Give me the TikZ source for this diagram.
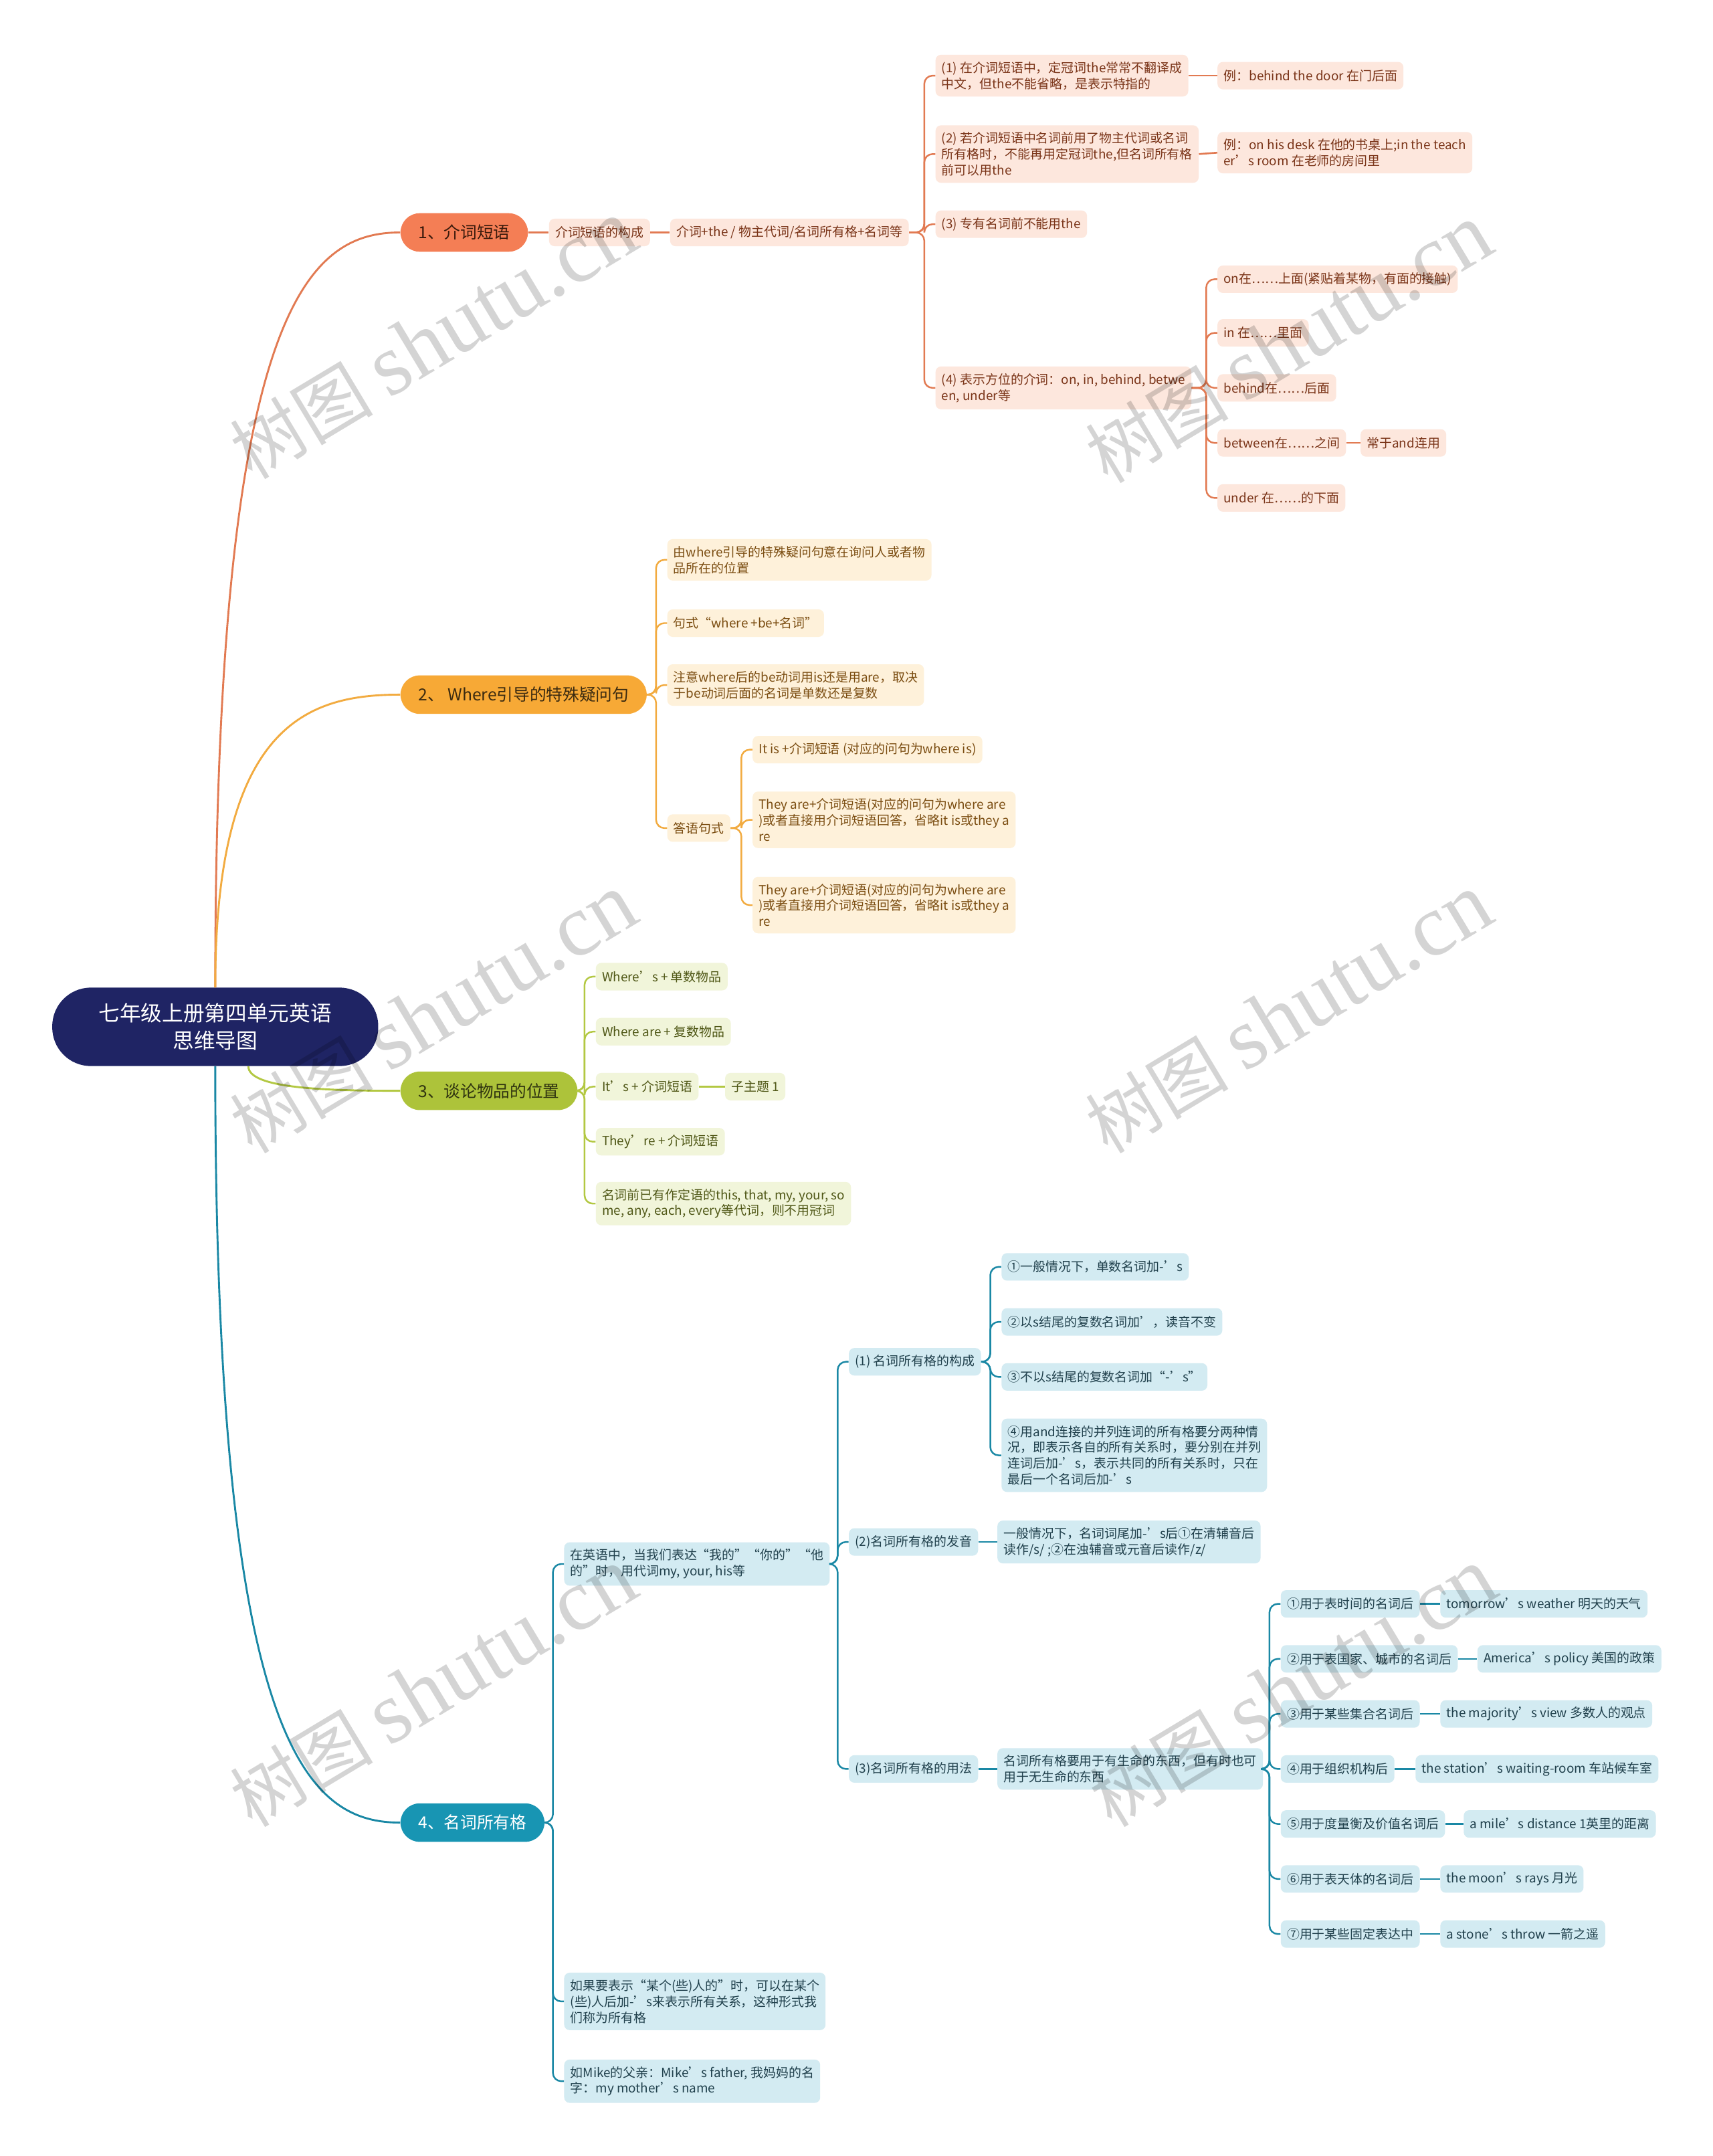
\documentclass[tikz,border=0pt]{standalone}
\usepackage{fontspec}
\setmainfont{Noto Sans CJK SC}
\newfontfamily\markfont{Liberation Serif}
\usetikzlibrary{calc}
\definecolor{RootNavy}{HTML}{1F2464}
\definecolor{PrepMain}{HTML}{F47E55}
\definecolor{PrepLine}{HTML}{E27A52}
\definecolor{PrepSoft}{HTML}{FDE7DD}
\definecolor{PrepText}{HTML}{7A3418}
\definecolor{PrepDark}{HTML}{3A1A0C}
\definecolor{WhereMain}{HTML}{F7A936}
\definecolor{WhereLine}{HTML}{F2AB40}
\definecolor{WhereSoft}{HTML}{FEF1DA}
\definecolor{WhereText}{HTML}{7A4C10}
\definecolor{WhereDark}{HTML}{3A2A10}
\definecolor{PlaceMain}{HTML}{ADC33A}
\definecolor{PlaceLine}{HTML}{B3C842}
\definecolor{PlaceSoft}{HTML}{F1F5DA}
\definecolor{PlaceText}{HTML}{4F5716}
\definecolor{PlaceDark}{HTML}{2F3310}
\definecolor{PossMain}{HTML}{1895B3}
\definecolor{PossLine}{HTML}{1A88A5}
\definecolor{PossSoft}{HTML}{D3EBF2}
\definecolor{PossText}{HTML}{20404C}

\begin{document}
\begin{tikzpicture}[
	x=1pt, y=-1pt, % one unit per pixel of the layout, y going down
	% Style for the central topic
	root node/.style={
		rectangle,
		rounded corners=28pt,
		fill=RootNavy,
		text=white,
		minimum width=237pt,
		minimum height=57pt,
		align=center,
		font=\fontsize{15.4}{20}\selectfont
	},
	% Style for the four main branches
	topic node/.style={
		rectangle,
		rounded corners=14pt,
		minimum height=28pt,
		inner xsep=13pt,
		anchor=west,
		font=\fontsize{12}{14}\selectfont
	},
	% Style for the small boxes
	leaf node/.style={
		rectangle,
		rounded corners=4pt,
		minimum height=20pt,
		inner xsep=4.5pt,
		inner ysep=5pt,
		align=left,
		anchor=west,
		font=\fontsize{9.2}{11.6}\selectfont
	},
	prep leaf/.style={leaf node, fill=PrepSoft, text=PrepText},
	where leaf/.style={leaf node, fill=WhereSoft, text=WhereText},
	place leaf/.style={leaf node, fill=PlaceSoft, text=PlaceText},
	poss leaf/.style={leaf node, fill=PossSoft, text=PossText},
	% Style for the curves leaving the root
	trunk/.style={
		line width=1.4pt,
		to path={(\tikztostart) .. controls ($(\tikztostart)!0.9!(\tikztostart|-\tikztotarget)$) and ($(\tikztotarget)!0.5!(\tikztostart|-\tikztotarget)$) .. (\tikztotarget)}
	},
	% Style for the branch lines (stub, spine and bend)
	twig/.style={
		line width=1.2pt,
		rounded corners=6pt,
		to path={(\tikztostart) -- ($(\tikztostart-|\tikztotarget)+(-8,0)$) |- (\tikztotarget)}
	},
	% Style for straight joins
	stub/.style={line width=1.3pt},
	% Style for the grey site mark
	watermark/.style={
		rotate=31,
		text=black,
		text opacity=0.17,
		font=\fontsize{52}{52}\selectfont
	}
	]
	
	\fill[white] (0,0) rectangle (1245,1567.4);
	\useasboundingbox (0,0) rectangle (1245,1567.4);
	
	% 1. Root
	\node[root node] (root) at (156.5,746.5) {七年级上册第四单元英语\\思维导图};
	
	% 2. Main branches
	\node[topic node, fill=PrepMain, text=PrepDark] (prep) at (291,169) {1、介词短语};
	\node[topic node, fill=WhereMain, text=WhereDark] (where) at (291,505) {2、 Where引导的特殊疑问句};
	\node[topic node, fill=PlaceMain, text=PlaceDark] (talk) at (291,793) {3、谈论物品的位置};
	\node[topic node, fill=PossMain, text=white] (poss) at (291,1325) {4、名词所有格};
	
	% 3. Branch 1
	\node[prep leaf] (prepform) at (399,169) {介词短语的构成};
	\node[prep leaf] (prepformula) at (487,169) {介词+the / 物主代词/名词所有格+名词等};
	\node[prep leaf] (rule1) at (680,55) {(1) 在介词短语中，定冠词the常常不翻译成\\中文，但the不能省略，是表示特指的};
	\node[prep leaf] (eg1) at (885,55) {例：behind the door 在门后面};
	\node[prep leaf] (rule2) at (680,112) {(2) 若介词短语中名词前用了物主代词或名词\\所有格时，不能再用定冠词the,但名词所有格\\前可以用the};
	\node[prep leaf] (eg2) at (885,111) {例：on his desk 在他的书桌上;in the teach\\er’s room 在老师的房间里};
	\node[prep leaf] (rule3) at (680,163) {(3) 专有名词前不能用the};
	\node[prep leaf] (rule4) at (680,282) {(4) 表示方位的介词：on, in, behind, betwe\\en, under等};
	\node[prep leaf] (pos1) at (885,203) {on在……上面(紧贴着某物，有面的接触)};
	\node[prep leaf] (pos2) at (885,242) {in 在……里面};
	\node[prep leaf] (pos3) at (885,282) {behind在……后面};
	\node[prep leaf] (pos4) at (885,322) {between在……之间};
	\node[prep leaf] (posnote) at (989,322) {常于and连用};
	\node[prep leaf] (pos5) at (885,362) {under 在……的下面};
	
	% 4. Branch 2
	\node[where leaf] (wq1) at (485,407) {由where引导的特殊疑问句意在询问人或者物\\品所在的位置};
	\node[where leaf] (wq2) at (485,453) {句式“where +be+名词”};
	\node[where leaf] (wq3) at (485,498) {注意where后的be动词用is还是用are，取决\\于be动词后面的名词是单数还是复数};
	\node[where leaf] (wans) at (485,602) {答语句式};
	\node[where leaf] (ans1) at (547,545) {It is +介词短语 (对应的问句为where is)};
	\node[where leaf] (ans2) at (547,596) {They are+介词短语(对应的问句为where are\\)或者直接用介词短语回答，省略it is或they a\\re};
	\node[where leaf] (ans3) at (547,658) {They are+介词短语(对应的问句为where are\\)或者直接用介词短语回答，省略it is或they a\\re};
	
	% 5. Branch 3
	\node[place leaf] (tk1) at (433,710) {Where’s + 单数物品};
	\node[place leaf] (tk2) at (433,750) {Where are + 复数物品};
	\node[place leaf] (tk3) at (433,790) {It’s + 介词短语};
	\node[place leaf] (tksub) at (527,790) {子主题 1};
	\node[place leaf] (tk4) at (433,830) {They’re + 介词短语};
	\node[place leaf] (tk5) at (433,875) {名词前已有作定语的this, that, my, your, so\\me, any, each, every等代词，则不用冠词};
	
	% 6. Branch 4
	\node[poss leaf] (ps1) at (410,1137) {在英语中，当我们表达“我的”“你的”“他\\的”时，用代词my, your, his等};
	\node[poss leaf] (ps2) at (410,1455) {如果要表示“某个(些)人的”时，可以在某个\\(些)人后加-’s来表示所有关系，这种形式我\\们称为所有格};
	\node[poss leaf] (ps3) at (410,1513) {如Mike的父亲：Mike’s father, 我妈妈的名\\字：my mother’s name};
	\node[poss leaf] (form) at (617,990) {(1) 名词所有格的构成};
	\node[poss leaf] (sound) at (617,1121) {(2)名词所有格的发音};
	\node[poss leaf] (use) at (617,1286) {(3)名词所有格的用法};
	\node[poss leaf] (f1) at (728,921) {①一般情况下，单数名词加-’s};
	\node[poss leaf] (f2) at (728,961) {②以s结尾的复数名词加’，读音不变};
	\node[poss leaf] (f3) at (728,1001) {③不以s结尾的复数名词加“-’s”};
	\node[poss leaf] (f4) at (728,1058) {④用and连接的并列连词的所有格要分两种情\\况，即表示各自的所有关系时，要分别在并列\\连词后加-’s，表示共同的所有关系时，只在\\最后一个名词后加-’s};
	\node[poss leaf] (sdn) at (725,1121) {一般情况下，名词词尾加-’s后①在清辅音后\\读作/s/ ;②在浊辅音或元音后读作/z/};
	\node[poss leaf] (usen) at (725,1286) {名词所有格要用于有生命的东西，但有时也可\\用于无生命的东西};
	\node[poss leaf] (u1) at (931,1166) {①用于表时间的名词后};
	\node[poss leaf] (ex1) at (1047,1166) {tomorrow’s weather 明天的天气};
	\node[poss leaf] (u2) at (931,1206) {②用于表国家、城市的名词后};
	\node[poss leaf] (ex2) at (1074,1206) {America’s policy 美国的政策};
	\node[poss leaf] (u3) at (931,1246) {③用于某些集合名词后};
	\node[poss leaf] (ex3) at (1047,1246) {the majority’s view 多数人的观点};
	\node[poss leaf] (u4) at (931,1286) {④用于组织机构后};
	\node[poss leaf] (ex4) at (1029,1286) {the station’s waiting-room 车站候车室};
	\node[poss leaf] (u5) at (931,1326) {⑤用于度量衡及价值名词后};
	\node[poss leaf] (ex5) at (1064,1326) {a mile’s distance 1英里的距离};
	\node[poss leaf] (u6) at (931,1366) {⑥用于表天体的名词后};
	\node[poss leaf] (ex6) at (1047,1366) {the moon’s rays 月光};
	\node[poss leaf] (u7) at (931,1406) {⑦用于某些固定表达中};
	\node[poss leaf] (ex7) at (1047,1406) {a stone’s throw 一箭之遥};
	
	% 7. Edges from the root
	\draw[trunk, PrepLine] (root.north) to (prep.west);
	\draw[trunk, WhereLine] (root.north) to (where.west);
	\draw[trunk, PlaceLine] (root.310) to (talk.west);
	\draw[trunk, PossLine] (root.south) to (poss.west);
	
	% 8. Edges of branch 1
	\draw[stub, PrepLine] (prep.east) -- (prepform.west);
	\draw[stub, PrepLine] (prepform.east) -- (prepformula.west);
	\draw[twig, PrepLine] (prepformula.east) to (rule1.west);
	\draw[twig, PrepLine] (prepformula.east) to (rule2.west);
	\draw[twig, PrepLine] (prepformula.east) to (rule3.west);
	\draw[twig, PrepLine] (prepformula.east) to (rule4.west);
	\draw[stub, PrepLine] (rule1.east) -- (eg1.west);
	\draw[stub, PrepLine] (rule2.east) -- (eg2.west);
	\draw[twig, PrepLine] (rule4.east) to (pos1.west);
	\draw[twig, PrepLine] (rule4.east) to (pos2.west);
	\draw[twig, PrepLine] (rule4.east) to (pos3.west);
	\draw[twig, PrepLine] (rule4.east) to (pos4.west);
	\draw[twig, PrepLine] (rule4.east) to (pos5.west);
	\draw[stub, PrepLine] (pos4.east) -- (posnote.west);
	
	% 9. Edges of branch 2
	\draw[twig, WhereLine] (where.east) to (wq1.west);
	\draw[twig, WhereLine] (where.east) to (wq2.west);
	\draw[twig, WhereLine] (where.east) to (wq3.west);
	\draw[twig, WhereLine] (where.east) to (wans.west);
	\draw[twig, WhereLine] (wans.east) to (ans1.west);
	\draw[twig, WhereLine] (wans.east) to (ans2.west);
	\draw[twig, WhereLine] (wans.east) to (ans3.west);
	
	% 10. Edges of branch 3
	\draw[twig, PlaceLine] (talk.east) to (tk1.west);
	\draw[twig, PlaceLine] (talk.east) to (tk2.west);
	\draw[twig, PlaceLine] (talk.east) to (tk3.west);
	\draw[twig, PlaceLine] (talk.east) to (tk4.west);
	\draw[twig, PlaceLine] (talk.east) to (tk5.west);
	\draw[stub, PlaceLine] (tk3.east) -- (tksub.west);
	
	% 11. Edges of branch 4
	\draw[twig, PossLine] (poss.east) to (ps1.west);
	\draw[twig, PossLine] (poss.east) to (ps2.west);
	\draw[twig, PossLine] (poss.east) to (ps3.west);
	\draw[twig, PossLine] (ps1.east) to (form.west);
	\draw[twig, PossLine] (ps1.east) to (sound.west);
	\draw[twig, PossLine] (ps1.east) to (use.west);
	\draw[twig, PossLine] (form.east) to (f1.west);
	\draw[twig, PossLine] (form.east) to (f2.west);
	\draw[twig, PossLine] (form.east) to (f3.west);
	\draw[twig, PossLine] (form.east) to (f4.west);
	\draw[stub, PossLine] (sound.east) -- (sdn.west);
	\draw[stub, PossLine] (use.east) -- (usen.west);
	\draw[twig, PossLine] (usen.east) to (u1.west);
	\draw[twig, PossLine] (usen.east) to (u2.west);
	\draw[twig, PossLine] (usen.east) to (u3.west);
	\draw[twig, PossLine] (usen.east) to (u4.west);
	\draw[twig, PossLine] (usen.east) to (u5.west);
	\draw[twig, PossLine] (usen.east) to (u6.west);
	\draw[twig, PossLine] (usen.east) to (u7.west);
	\draw[stub, PossLine] (u1.east) -- (ex1.west);
	\draw[stub, PossLine] (u2.east) -- (ex2.west);
	\draw[stub, PossLine] (u3.east) -- (ex3.west);
	\draw[stub, PossLine] (u4.east) -- (ex4.west);
	\draw[stub, PossLine] (u5.east) -- (ex5.west);
	\draw[stub, PossLine] (u6.east) -- (ex6.west);
	\draw[stub, PossLine] (u7.east) -- (ex7.west);
	
	% 12. Site marks
	\node[watermark] (wm1) at (315,247) {树图 {\markfont\fontsize{64}{64}\selectfont shutu.cn}};
	\node[watermark] (wm2) at (937,250) {树图 {\markfont\fontsize{64}{64}\selectfont shutu.cn}};
	\node[watermark] (wm3) at (315,737) {树图 {\markfont\fontsize{64}{64}\selectfont shutu.cn}};
	\node[watermark] (wm4) at (937,737) {树图 {\markfont\fontsize{64}{64}\selectfont shutu.cn}};
	\node[watermark] (wm5) at (315,1227) {树图 {\markfont\fontsize{64}{64}\selectfont shutu.cn}};
	\node[watermark] (wm6) at (940,1227) {树图 {\markfont\fontsize{64}{64}\selectfont shutu.cn}};
	
\end{tikzpicture}
\end{document}
